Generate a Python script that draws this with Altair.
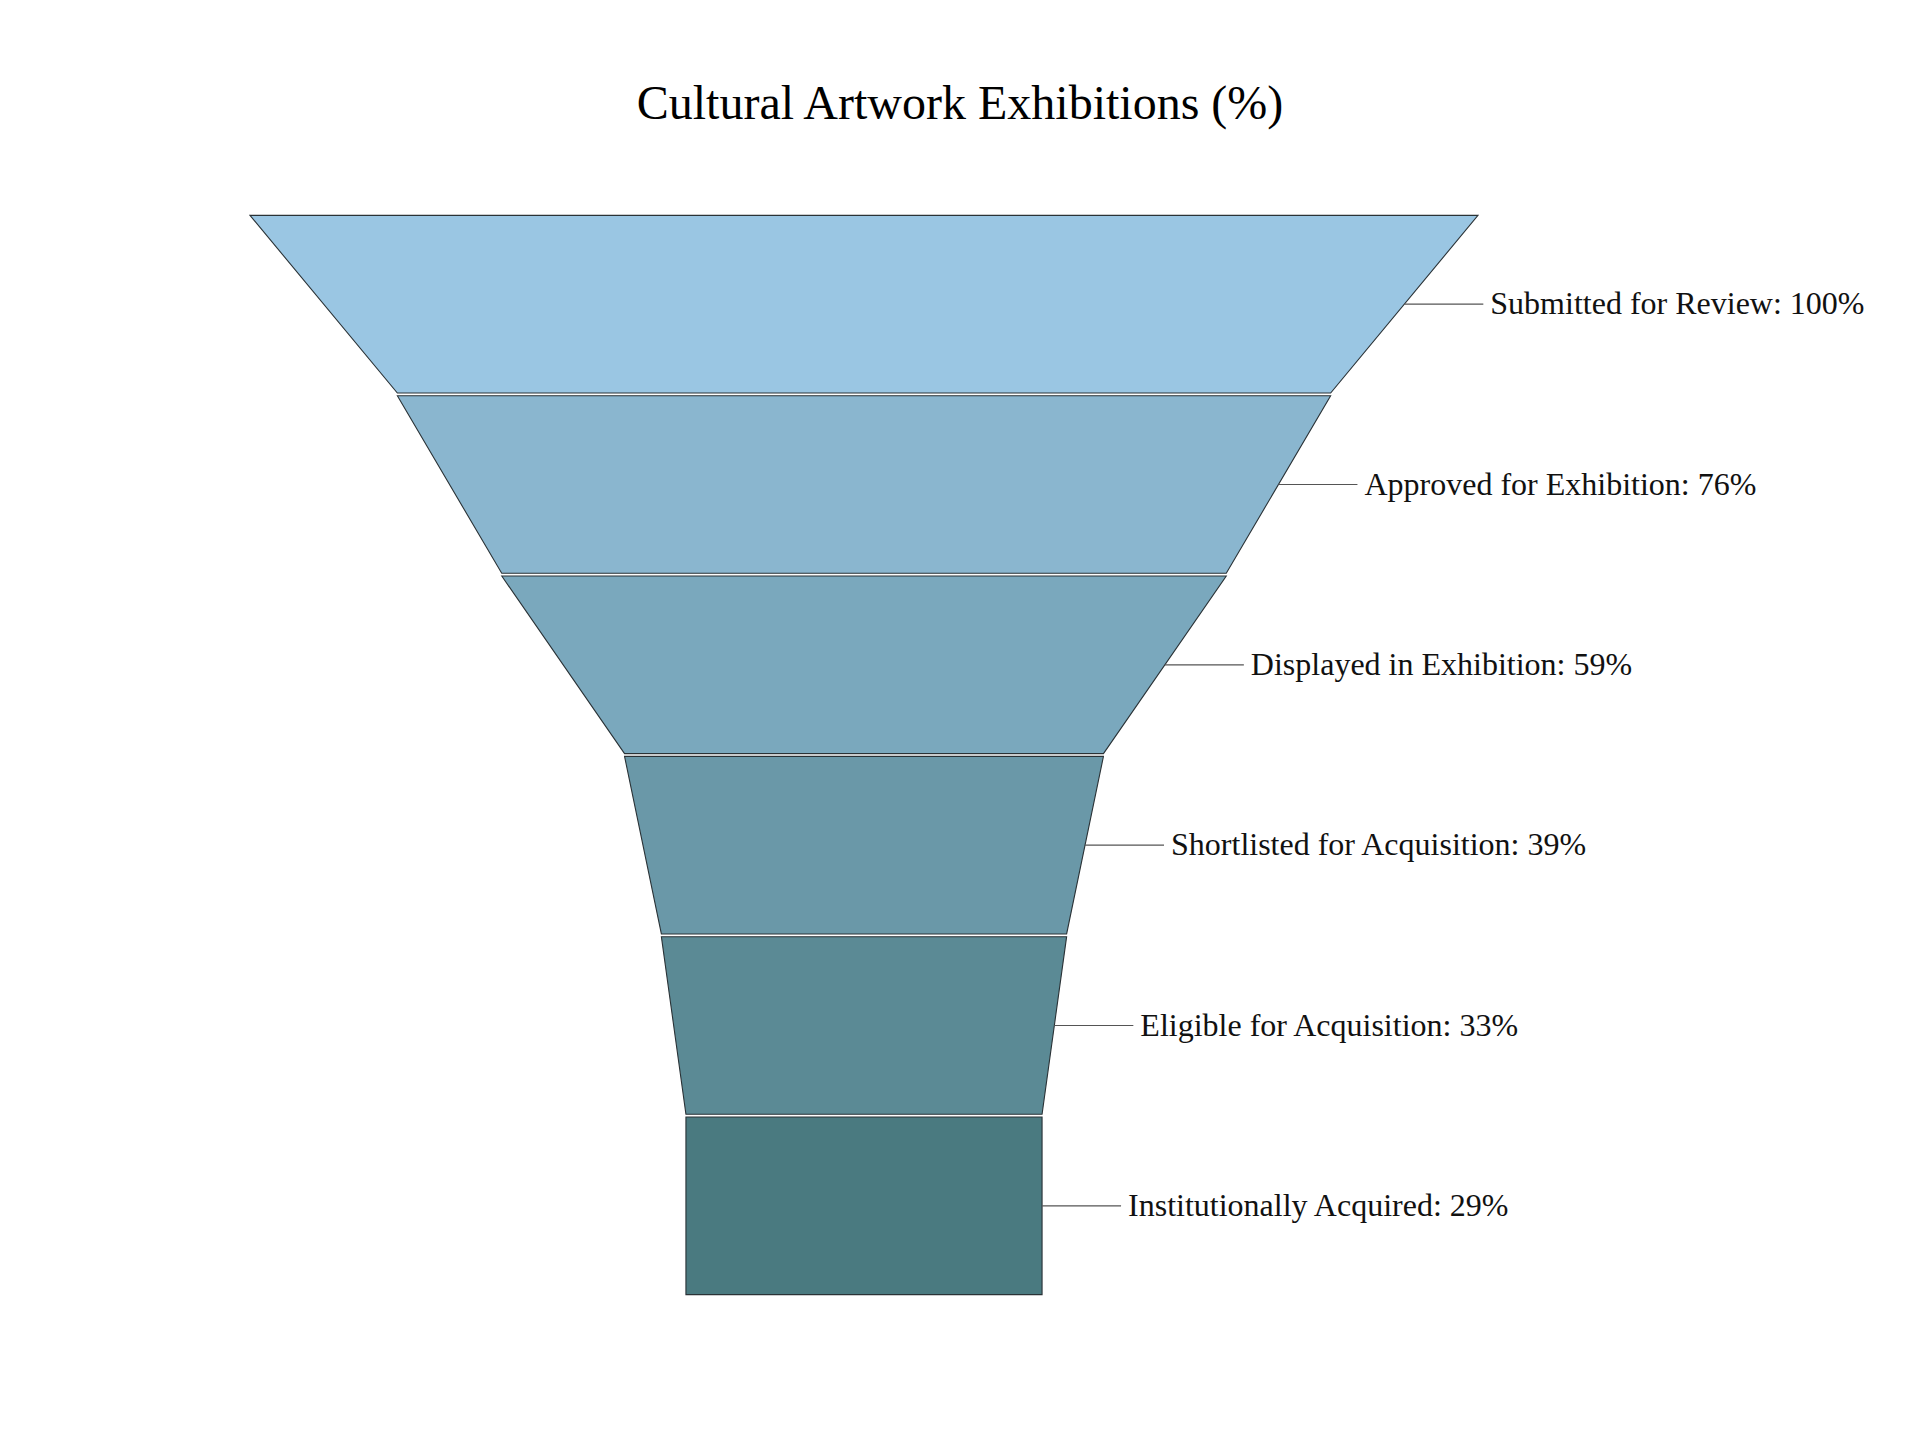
import altair as alt
import pandas as pd

stages = [
    "Submitted for Review",
    "Approved for Exhibition",
    "Displayed in Exhibition",
    "Shortlisted for Acquisition",
    "Eligible for Acquisition",
    "Institutionally Acquired",
]
values = [100, 76, 59, 39, 33, 29]
colors = ["#9AC6E3", "#8AB6CF", "#7AA8BD", "#6A98A8", "#5B8A95", "#4A7A80"]

GAP = 0.0075

rows = []
labels = []
for i, (s, v) in enumerate(zip(stages, values)):
    nxt = values[i + 1] if i + 1 < len(values) else v
    rows.append({"stage": s, "order": i, "y": i + GAP, "xl": -v / 2, "xr": v / 2})
    rows.append({"stage": s, "order": i, "y": i + 1 - GAP, "xl": -nxt / 2, "xr": nxt / 2})
    labels.append({"stage": s, "y": i + 0.5, "edge": (v + nxt) / 4,
                   "label": f"{s}: {v}%"})

shape_df = pd.DataFrame(rows)
label_df = pd.DataFrame(labels)

xscale = alt.Scale(domain=[-50, 50], nice=False, zero=False)
yscale = alt.Scale(domain=[0, 6], nice=False, zero=False, reverse=True)
noaxis = None

funnel = alt.Chart(shape_df).mark_area(
    orient="horizontal", stroke="#2A3236", strokeWidth=1.1, interpolate="linear"
).encode(
    y=alt.Y("y:Q", scale=yscale, axis=noaxis),
    x=alt.X("xl:Q", scale=xscale, axis=noaxis),
    x2="xr:Q",
    color=alt.Color("stage:N", scale=alt.Scale(domain=stages, range=colors), legend=None),
    order="order:Q",
    detail="stage:N",
)

leaders = alt.Chart(label_df).mark_rule(
    color="#555555", strokeWidth=1.2, x2Offset=79
).encode(
    y=alt.Y("y:Q", scale=yscale, axis=noaxis),
    x=alt.X("edge:Q", scale=xscale, axis=noaxis),
    x2="edge:Q",
)

texts = alt.Chart(label_df).mark_text(
    align="left", baseline="middle", dx=86, font="Liberation Serif", fontSize=32,
    color="#111111",
).encode(
    y=alt.Y("y:Q", scale=yscale, axis=noaxis),
    x=alt.X("edge:Q", scale=xscale, axis=noaxis),
    text="label:N",
)

chart = alt.layer(funnel, leaders, texts).properties(
    width=1228,
    height=1082,
    padding={"left": 250, "top": 214, "right": 442, "bottom": 144},
    autosize="none",
    background="white",
    title=alt.TitleParams(
        "Cultural Artwork Exhibitions (%)",
        font="Liberation Serif",
        fontSize=48,
        fontWeight="normal",
        color="#000000",
        anchor="middle",
        dx=96,
        offset=84,
    ),
).configure_view(strokeWidth=0)

chart.save("out.html", embed_options={"renderer": "svg", "actions": False})
